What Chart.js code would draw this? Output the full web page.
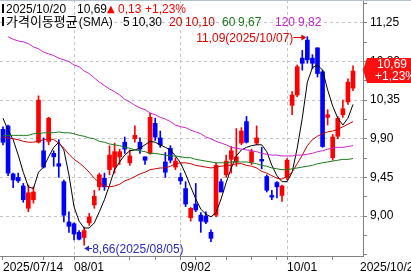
<!DOCTYPE html>
<html>
<head>
<meta charset="utf-8">
<script src="https://cdn.jsdelivr.net/npm/chart.js@4.4.0/dist/chart.umd.min.js"></script>
<style>
  html, body { margin: 0; padding: 0; background: #fff; }
  #wrap { position: relative; width: 411px; height: 276px; }
</style>
</head>
<body>
<div id="wrap"><canvas id="chart" width="411" height="276"></canvas></div>
<script>
// trading days shown
const dates = [
  '2025/07/14','2025/07/15','2025/07/16','2025/07/17','2025/07/18','2025/07/21','2025/07/22','2025/07/23','2025/07/24','2025/07/25',
  '2025/07/28','2025/07/29','2025/07/30','2025/07/31','2025/08/01','2025/08/04','2025/08/05','2025/08/06','2025/08/07','2025/08/08',
  '2025/08/11','2025/08/12','2025/08/13','2025/08/14','2025/08/15','2025/08/18','2025/08/19','2025/08/20','2025/08/21','2025/08/22',
  '2025/08/25','2025/08/26','2025/08/27','2025/08/28','2025/08/29','2025/09/02','2025/09/03','2025/09/04','2025/09/05','2025/09/08',
  '2025/09/09','2025/09/10','2025/09/11','2025/09/12','2025/09/15','2025/09/16','2025/09/17','2025/09/18','2025/09/19','2025/09/22',
  '2025/09/23','2025/09/24','2025/09/25','2025/09/26','2025/09/29','2025/09/30','2025/10/01','2025/10/02','2025/10/03','2025/10/06',
  '2025/10/07','2025/10/08','2025/10/09','2025/10/10','2025/10/13','2025/10/14','2025/10/15','2025/10/16','2025/10/17','2025/10/20'
];

const opens = [
  10.01, 10.05, 9.49, 9.45, 9.35, 9.09, 9.19, 9.86, 9.76, 9.87,
  9.73, 9.61, 9.40, 8.93, 8.91, 8.81, 8.75, 8.92, 9.13, 9.34,
  9.44, 9.54, 9.57, 9.69, 9.86, 9.62, 9.90, 9.86, 9.69, 9.73,
  10.08, 9.91, 9.63, 9.79, 9.57, 9.45, 9.32, 8.98, 9.14, 9.01,
  9.00, 8.81, 9.01, 9.40, 9.48, 9.66, 9.63, 9.85, 10.10, 9.63,
  9.85, 9.66, 9.46, 9.24, 9.39, 9.24, 9.45, 10.29, 10.41, 10.84,
  11.05, 10.84, 10.96, 10.68, 10.15, 9.68, 9.93, 10.18, 10.33, 10.49
];
const highs = [
  10.04, 10.06, 9.50, 9.50, 9.38, 9.36, 9.34, 10.40, 9.91, 10.15,
  9.76, 9.89, 9.42, 9.05, 8.92, 8.83, 8.87, 9.03, 9.30, 9.50,
  9.50, 9.82, 9.85, 9.78, 9.92, 9.77, 10.05, 9.91, 9.69, 10.20,
  10.14, 9.99, 9.74, 9.82, 9.68, 9.50, 9.40, 9.10, 9.38, 9.04,
  9.05, 8.84, 9.62, 9.43, 9.71, 9.81, 10.02, 10.03, 10.16, 9.78,
  10.05, 9.80, 9.48, 9.30, 9.40, 9.36, 9.67, 10.45, 10.76, 10.93,
  11.09, 10.88, 10.96, 10.70, 10.24, 9.95, 10.16, 10.35, 10.60, 10.75
];
const lows = [
  9.83, 9.47, 9.33, 9.39, 9.16, 9.05, 9.15, 9.85, 9.56, 9.83,
  9.58, 9.45, 8.93, 8.81, 8.72, 8.72, 8.66, 8.89, 9.09, 9.30,
  9.30, 9.48, 9.50, 9.60, 9.73, 9.59, 9.86, 9.73, 9.60, 9.72,
  9.88, 9.80, 9.45, 9.62, 9.54, 9.37, 9.11, 8.94, 9.05, 8.81,
  8.91, 8.70, 8.99, 9.28, 9.45, 9.50, 9.58, 9.83, 9.85, 9.60,
  9.83, 9.55, 9.28, 9.19, 9.21, 9.17, 9.42, 10.18, 10.39, 10.70,
  10.78, 10.72, 10.62, 9.80, 10.06, 9.65, 9.90, 10.15, 10.30, 10.46
];
const closes = [
  9.86, 9.50, 9.42, 9.41, 9.19, 9.27, 9.28, 10.35, 9.57, 10.14,
  9.69, 9.58, 9.01, 8.88, 8.79, 8.73, 8.83, 8.99, 9.23, 9.48,
  9.34, 9.71, 9.75, 9.75, 9.78, 9.70, 9.94, 9.78, 9.65, 10.15,
  9.92, 9.83, 9.51, 9.65, 9.64, 9.41, 9.14, 9.09, 9.07, 8.94,
  8.93, 8.74, 9.59, 9.28, 9.64, 9.76, 9.69, 9.99, 9.86, 9.75,
  9.91, 9.64, 9.30, 9.22, 9.34, 9.35, 9.65, 10.41, 10.74, 10.78,
  10.82, 10.78, 10.66, 9.81, 10.18, 9.92, 10.14, 10.25, 10.56, 10.69
];

// moving averages
const sma5 = [
  10.14, 10.00, 9.89, 9.71, 9.51, 9.34, 9.32, 9.51, 9.57, 9.69,
  9.80, 9.86, 9.77, 9.48, 9.11, 8.94, 8.86, 8.86, 8.92, 9.05,
  9.19, 9.36, 9.54, 9.63, 9.71, 9.76, 9.77, 9.79, 9.83, 9.87,
  9.86, 9.83, 9.80, 9.77, 9.70, 9.62, 9.49, 9.34, 9.20, 9.08,
  9.02, 8.99, 9.04, 9.20, 9.39, 9.56, 9.70, 9.77, 9.80, 9.82,
  9.83, 9.83, 9.75, 9.59, 9.47, 9.40, 9.40, 9.51, 9.79, 10.14,
  10.56, 10.73, 10.76, 10.70, 10.47, 10.28, 10.14, 10.06, 10.14, 10.30
];
const sma20 = [
  9.92, 9.91, 9.90, 9.89, 9.87, 9.86, 9.86, 9.87, 9.89, 9.90,
  9.89, 9.85, 9.79, 9.72, 9.66, 9.62, 9.57, 9.51, 9.44, 9.39,
  9.35, 9.34, 9.35, 9.37, 9.41, 9.43, 9.46, 9.49, 9.51, 9.54,
  9.55, 9.56, 9.56, 9.58, 9.61, 9.62, 9.62, 9.61, 9.59, 9.58,
  9.57, 9.56, 9.57, 9.58, 9.59, 9.59, 9.61, 9.61, 9.59, 9.58,
  9.56, 9.52, 9.50, 9.47, 9.44, 9.43, 9.46, 9.51, 9.61, 9.71,
  9.82, 9.89, 9.93, 9.96, 9.98, 9.99, 10.01, 10.04, 10.07, 10.10
];
const sma60 = [
  9.94, 9.94, 9.94, 9.94, 9.94, 9.94, 9.96, 9.96, 9.97, 9.97,
  9.97, 9.98, 9.97, 9.97, 9.96, 9.94, 9.93, 9.91, 9.90, 9.87,
  9.86, 9.84, 9.83, 9.82, 9.80, 9.79, 9.77, 9.76, 9.75, 9.73,
  9.73, 9.72, 9.71, 9.70, 9.70, 9.69, 9.68, 9.68, 9.66, 9.65,
  9.64, 9.63, 9.62, 9.62, 9.62, 9.63, 9.63, 9.63, 9.63, 9.62,
  9.61, 9.59, 9.58, 9.56, 9.55, 9.54, 9.54, 9.55, 9.56, 9.57,
  9.58, 9.59, 9.61, 9.62, 9.63, 9.64, 9.65, 9.66, 9.66, 9.67
];
const sma120 = [
  null, 11.09, 11.06, 11.04, 11.03, 11.01, 10.97, 10.95, 10.91, 10.89,
  10.87, 10.84, 10.82, 10.80, 10.76, 10.74, 10.69, 10.66, 10.61, 10.56,
  10.52, 10.48, 10.45, 10.41, 10.36, 10.33, 10.29, 10.26, 10.24, 10.20,
  10.18, 10.15, 10.13, 10.10, 10.06, 10.04, 10.03, 10.00, 9.98, 9.96,
  9.92, 9.90, 9.87, 9.85, 9.83, 9.80, 9.79, 9.78, 9.77, 9.76,
  9.75, 9.73, 9.72, 9.71, 9.71, 9.70, 9.70, 9.70, 9.71, 9.71,
  9.72, 9.73, 9.75, 9.76, 9.78, 9.79, 9.80, 9.80, 9.81, 9.82
];

// axis ticks
const priceTicks = [9.00, 9.45, 9.90, 10.35, 10.80, 11.25];
const labelDates = ['2025/07/14', '2025/08/01', '2025/09/02', '2025/10/01'];
const labelTexts = ['2025/07/14', '08/01', '09/02', '10/01'];
const markDates = ['2025/07/24', '2025/08/18', '2025/08/25', '2025/09/05', '2025/09/15', '2025/09/22', '2025/09/29', '2025/10/14'];

const UP = '#ff0000';
const DOWN = '#0000ff';
const GRID = '#c4c4c4';
const AXIS = '#808080';
const FONT = '"Liberation Sans", "Noto Sans CJK KR", sans-serif';
const CJK = '"Noto Sans CJK KR", "Liberation Sans", sans-serif';

const fmt = v => v.toFixed(2).replace('.', ',');
const last = closes.length - 1;

const candleColors = closes.map((c, i) => (c >= opens[i] ? UP : DOWN));
const wickData = dates.map((d, i) => ({ x: i, y: [lows[i], highs[i]] }));
const bodyData = dates.map((d, i) => ({ x: i, y: [opens[i], closes[i]] }));
const toPoints = arr => arr.map((v, i) => ({ x: i, y: v }));

const labelIdx = labelDates.map(d => dates.indexOf(d));
const xTickIdx = labelIdx.concat(markDates.map(d => dates.indexOf(d))).sort((a, b) => a - b);
const monthIdx = labelIdx.slice(1);

const minorStep = 0.1125;
const yTickVals = [];
for (let v = priceTicks[0] - 4 * minorStep; v < 11.5; v += minorStep) yTickVals.push(+v.toFixed(4));
const isMajor = v => priceTicks.some(p => Math.abs(p - v) < 1e-6);

function arrow(ctx, x1, y, x2, color) {
  const dir = Math.sign(x2 - x1);
  ctx.strokeStyle = color;
  ctx.fillStyle = color;
  ctx.lineWidth = 1;
  ctx.beginPath();
  ctx.moveTo(x1, y + 0.5);
  ctx.lineTo(x2 - dir * 3, y + 0.5);
  ctx.stroke();
  ctx.beginPath();
  ctx.moveTo(x2, y + 0.5);
  ctx.lineTo(x2 - dir * 5, y - 2.5);
  ctx.lineTo(x2 - dir * 5, y + 3.5);
  ctx.closePath();
  ctx.fill();
}

const overlay = {
  id: 'overlay',
  afterDraw(chart) {
    const { ctx, chartArea: area } = chart;
    const x = chart.scales.x;
    const y = chart.scales.y;
    ctx.save();

    // frame top
    ctx.strokeStyle = '#b4c0cc';
    ctx.lineWidth = 1;
    ctx.beginPath();
    ctx.moveTo(0, 0.5);
    ctx.lineTo(chart.width, 0.5);
    ctx.stroke();

    // header line 1
    const change = closes[last] - closes[last - 1];
    const pct = change / closes[last - 1] * 100;
    ctx.textBaseline = 'alphabetic';
    ctx.textAlign = 'left';
    ctx.fillStyle = '#000';
    ctx.fillRect(2, 4, 2, 9);
    ctx.font = '12px ' + FONT;
    ctx.fillText(dates[last], 6, 13);
    ctx.fillText(fmt(closes[last]), 77, 13);
    ctx.fillStyle = UP;
    ctx.font = '10px "DejaVu Sans", sans-serif';
    ctx.fillText('▲', 107, 12);
    ctx.font = '12px ' + FONT;
    ctx.fillText(fmt(change), 118, 13);
    ctx.fillText('+' + fmt(pct) + '%', 145, 13);

    // header line 2
    ctx.fillStyle = '#000';
    ctx.fillRect(2, 17, 2, 9);
    ctx.font = '13px ' + CJK;
    const title = '가격이동평균';
    ctx.fillText(title, 6, 26);
    const tw = ctx.measureText(title).width;
    ctx.font = '12px ' + FONT;
    ctx.fillText('(SMA)', 6 + tw + 1, 26);
    const legend = [
      ['5', sma5, '#000000', 123, 132],
      ['20', sma20, '#d00000', 169, 185],
      ['60', sma60, '#1a7a1a', 222, 238],
      ['120', sma120, '#cc22cc', 275, 298]
    ];
    legend.forEach(([name, arr, color, x1, x2]) => {
      ctx.fillStyle = color;
      ctx.fillText(name, x1, 26);
      ctx.fillText(fmt(arr[last]), x2, 26);
    });

    // highest / lowest marks
    let iHi = 0, iLo = 0;
    highs.forEach((v, i) => { if (v > highs[iHi]) iHi = i; });
    lows.forEach((v, i) => { if (v < lows[iLo]) iLo = i; });
    const hx = x.getPixelForValue(iHi), hy = y.getPixelForValue(highs[iHi]);
    ctx.font = '12px ' + FONT;
    ctx.fillStyle = '#e00000';
    ctx.textAlign = 'right';
    ctx.fillText(fmt(highs[iHi]) + '(' + dates[iHi] + ')', hx - 14, hy + 5);
    arrow(ctx, hx - 14, Math.round(hy), hx - 1, '#e00000');

    const lx = x.getPixelForValue(iLo), ly = y.getPixelForValue(lows[iLo]);
    ctx.fillStyle = '#2a2ac0';
    ctx.textAlign = 'left';
    ctx.fillText(fmt(lows[iLo]) + '(' + dates[iLo] + ')', lx + 8, ly + 8);
    arrow(ctx, lx + 8, Math.round(ly + 3), lx, '#2a2ac0');

    // last price box on the axis
    const cy = Math.round(y.getPixelForValue(closes[last]));
    const bx = area.right;
    ctx.fillStyle = '#ff1010';
    ctx.beginPath();
    ctx.moveTo(bx, cy - 1);
    ctx.lineTo(bx + 4, cy - 13);
    ctx.lineTo(chart.width, cy - 13);
    ctx.lineTo(chart.width, cy + 12);
    ctx.lineTo(bx + 4, cy + 12);
    ctx.closePath();
    ctx.fill();
    ctx.fillStyle = '#fff';
    ctx.textAlign = 'right';
    ctx.fillText(fmt(closes[last]), 407, cy - 3);
    ctx.textAlign = 'left';
    ctx.fillText('+' + fmt(pct) + '%', 375, cy + 9);

    // last date under the price axis
    ctx.fillStyle = '#000';
    ctx.fillText(dates[last], area.right - 3, 271);

    ctx.restore();
  }
};

new Chart(document.getElementById('chart'), {
  type: 'bar',
  data: {
    datasets: [
      { type: 'line', data: toPoints(sma120), borderColor: '#cc22cc', borderWidth: 1, pointRadius: 0, order: 0 },
      { type: 'line', data: toPoints(sma60), borderColor: '#1a7a1a', borderWidth: 1, pointRadius: 0, order: 0 },
      { type: 'line', data: toPoints(sma20), borderColor: '#c80000', borderWidth: 1, pointRadius: 0, order: 0 },
      { type: 'line', data: toPoints(sma5), borderColor: '#000000', borderWidth: 1, pointRadius: 0, order: 0 },
      { type: 'bar', data: bodyData, backgroundColor: candleColors, barThickness: 4, minBarLength: 1, grouped: false, order: 1 },
      { type: 'bar', data: wickData, backgroundColor: candleColors, barThickness: 1, grouped: false, order: 2 }
    ]
  },
  options: {
    responsive: false,
    animation: false,
    devicePixelRatio: 1,
    layout: { padding: 0 },
    plugins: { legend: { display: false }, tooltip: { enabled: false } },
    scales: {
      x: {
        type: 'linear',
        min: -0.59,
        max: 70.97,
        offset: false,
        bounds: 'data',
        grid: {
          offset: false,
          color: c => (monthIdx.includes(c.tick && c.tick.value) ? GRID : 'transparent'),
          tickColor: AXIS,
          tickLength: 4
        },
        border: { color: AXIS, dash: [3, 3] },
        ticks: {
          autoSkip: false,
          maxRotation: 0,
          minRotation: 0,
          align: 'start',
          padding: 0,
          color: '#000',
          font: { family: FONT, size: 12 },
          callback: v => {
            const k = labelIdx.indexOf(v);
            return k >= 0 ? labelTexts[k] : '';
          }
        },
        afterBuildTicks: s => { s.ticks = xTickIdx.map(v => ({ value: v })); },
        afterFit: s => { s.height = 20; s.paddingLeft = 0; s.paddingRight = 0; }
      },
      y: {
        type: 'linear',
        position: 'right',
        min: 8.534,
        max: 11.5175,
        beginAtZero: false,
        bounds: 'data',
        grid: {
          color: c => (c.tick && isMajor(c.tick.value) ? GRID : 'transparent'),
          tickColor: AXIS,
          tickLength: 4
        },
        border: { color: AXIS, dash: [3, 3] },
        ticks: {
          padding: 3,
          color: '#000',
          font: { family: FONT, size: 12 },
          callback: v => (isMajor(v) ? fmt(v) : '')
        },
        afterBuildTicks: s => { s.ticks = yTickVals.map(v => ({ value: v })); },
        afterFit: s => { s.width = 48; s.paddingTop = 0; s.paddingBottom = 0; }
      }
    }
  },
  plugins: [overlay]
});
</script>
</body>
</html>
